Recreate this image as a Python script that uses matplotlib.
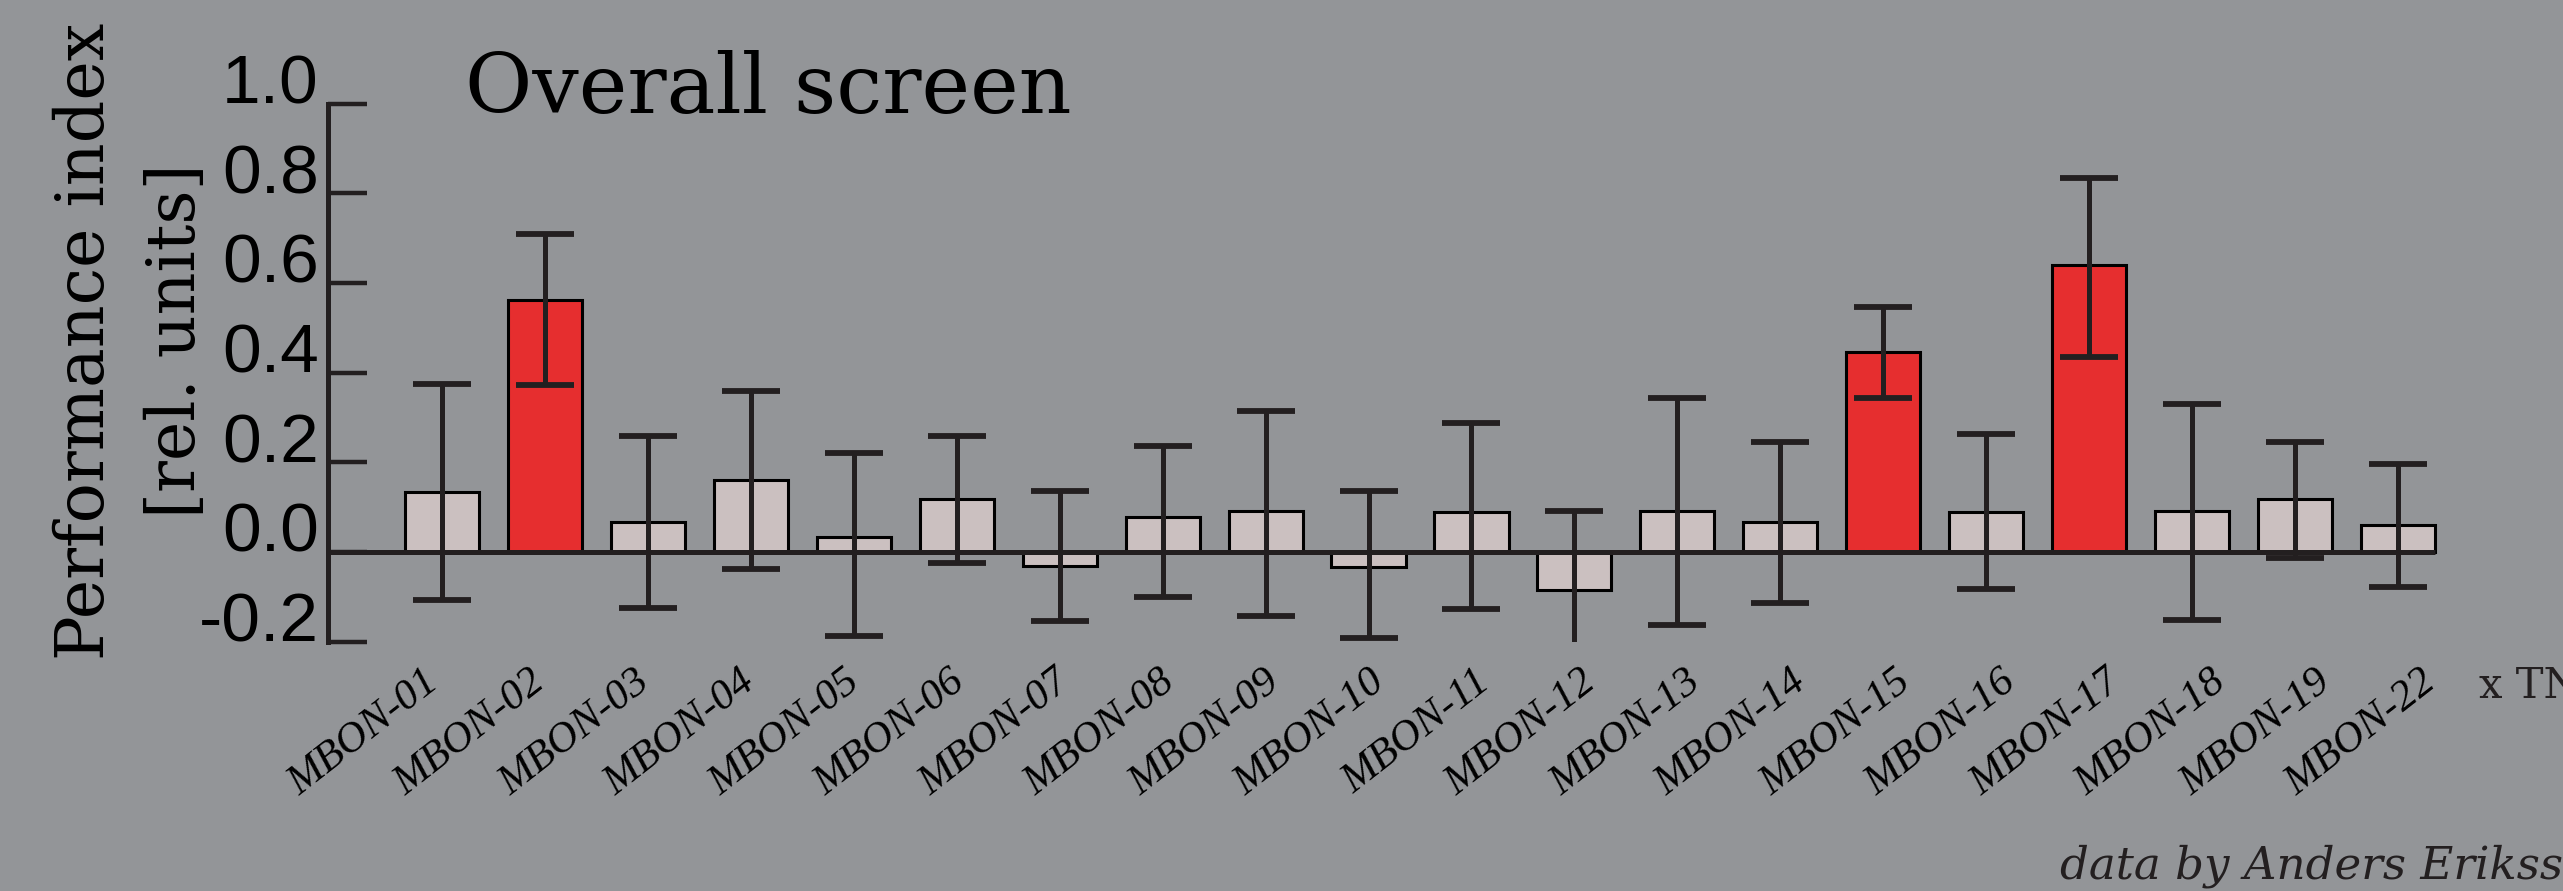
import numpy as np
import matplotlib
matplotlib.use('Agg')
from matplotlib import pyplot as plt
from matplotlib import transforms

names = ['MBON-01', 'MBON-02', 'MBON-03', 'MBON-04', 'MBON-05', 'MBON-06', 'MBON-07',
         'MBON-08', 'MBON-09', 'MBON-10', 'MBON-11', 'MBON-12', 'MBON-13', 'MBON-14',
         'MBON-15', 'MBON-16', 'MBON-17', 'MBON-18', 'MBON-19', 'MBON-22']
values = [0.133, 0.561, 0.067, 0.161, 0.034, 0.118, -0.031, 0.078, 0.092, -0.033,
          0.089, -0.085, 0.092, 0.067, 0.445, 0.089, 0.639, 0.092, 0.118, 0.059]
err_hi = [0.374, 0.710, 0.258, 0.358, 0.220, 0.258, 0.136, 0.237, 0.314, 0.136,
          0.287, 0.092, 0.344, 0.246, 0.547, 0.264, 0.835, 0.329, 0.246, 0.197]
err_lo = [-0.108, 0.373, -0.125, -0.038, -0.187, -0.024, -0.155, -0.100, -0.144, -0.193,
          -0.127, -0.260, -0.163, -0.114, 0.343, -0.082, 0.435, -0.153, -0.013, -0.079]
hits = ['MBON-02', 'MBON-15', 'MBON-17']
yticks = [-0.2, 0.0, 0.2, 0.4, 0.6, 0.8, 1.0]

bg = '#939598'
ink = '#231f20'
grey_bar = '#cbc0c0'
red_bar = '#e62e2f'

W, H = 2563, 891
fig = plt.figure(figsize=(W / 100, H / 100), dpi=100, facecolor=bg)
# axes placed in pixels: spine at x=328, y from 103.6 (1.0) to 641.5 (-0.2)
ax = fig.add_axes([328 / W, (H - 641.5) / H, 1 - 328 / W, (641.5 - 103.6) / H])
ax.set_facecolor(bg)

x = np.arange(len(names))
vals = np.array(values)
lo = vals - np.array(err_lo)
hi = np.array(err_hi) - vals
cols = [red_bar if n in hits else grey_bar for n in names]
bw = 0.72

ax.bar(x, vals, width=bw, color=cols, edgecolor='black', linewidth=2.2, zorder=2)
ax.hlines(0, -2, x[-1] + bw / 2, color=ink, linewidth=3.6, zorder=3)
ax.errorbar(x, vals, yerr=[lo, hi], fmt='none', ecolor=ink, elinewidth=3.6,
            capsize=21, capthick=4.2, zorder=4)

ax.set_xlim(-1.107, (W - 442) / 102.95)
ax.set_ylim(-0.2, 1.0)

for s in ['top', 'right', 'bottom']:
    ax.spines[s].set_visible(False)
ax.spines['left'].set_linewidth(3.6)
ax.spines['left'].set_color(ink)

ax.set_yticks(yticks)
ax.set_yticklabels(['%.1f' % t for t in yticks], fontfamily='Liberation Sans', fontsize=50)
ax.tick_params(axis='y', direction='in', length=28, width=3.2, color=ink, pad=6.5)
up = transforms.ScaledTranslation(0, 0.25, fig.dpi_scale_trans)
for lab in ax.get_yticklabels():
    lab.set_transform(lab.get_transform() + up)

ax.set_xticks(x)
ax.set_xticklabels(names, rotation=38, ha='right', rotation_mode='anchor',
                   fontfamily='Liberation Serif', style='italic', fontsize=31)
ax.tick_params(axis='x', length=0, pad=15)
# labels drift slightly wider than the bars in the original
for i, lab in enumerate(ax.get_xticklabels()):
    sh = transforms.ScaledTranslation(-0.19 + 0.0215 * i, 0, fig.dpi_scale_trans)
    lab.set_transform(lab.get_transform() + sh)

fig.text(465 / W, 1 - 113 / H, 'Overall screen', fontfamily='DejaVu Serif',
         fontsize=59, color='black', va='baseline', ha='left')
fig.text(85 / W, 1 - 341 / H, 'Performance index', fontfamily='DejaVu Serif',
         fontsize=48, rotation=90, ha='center', va='center', color='black')
fig.text(176 / W, 1 - 341 / H, '[rel. units]', fontfamily='DejaVu Serif',
         fontsize=48, rotation=90, ha='center', va='center', color='black')
fig.text(2479 / W, 1 - 697 / H, 'x TNT', fontfamily='DejaVu Serif',
         fontsize=30, color=ink, va='baseline', ha='left')
fig.text(2060 / W, 1 - 879 / H, 'data by Anders Eriksson', fontfamily='DejaVu Serif',
         style='italic', fontsize=32.5, color=ink, va='baseline', ha='left')

fig.savefig('out.png', dpi=100, facecolor=bg)
